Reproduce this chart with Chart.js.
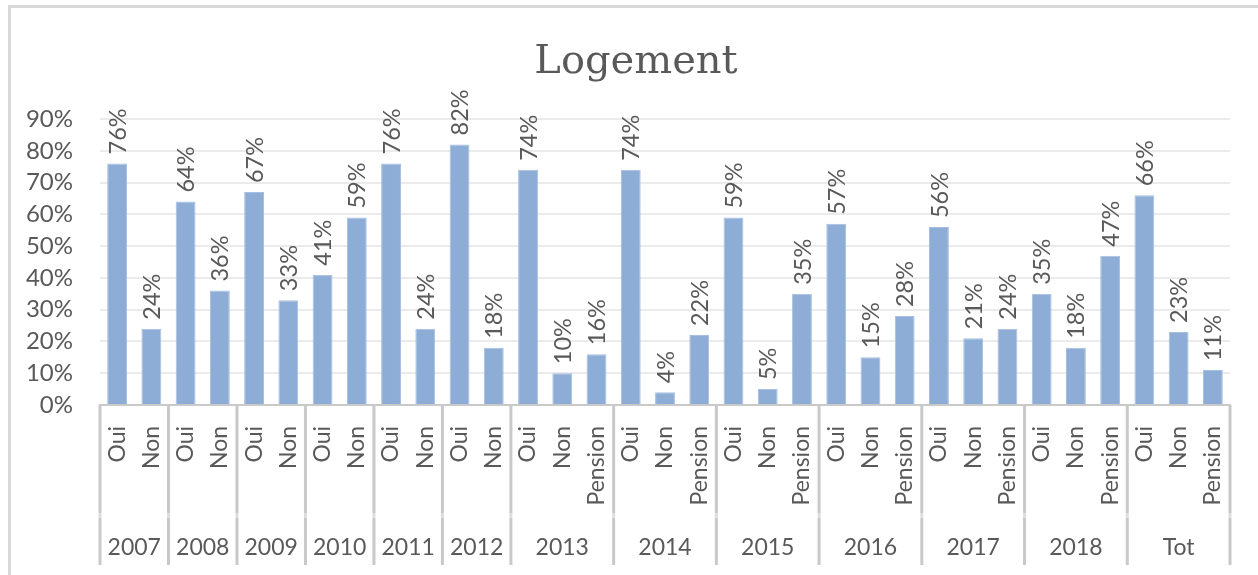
<!DOCTYPE html>
<html>
<head>
<meta charset="utf-8">
<title>Logement</title>
<script src="https://cdn.jsdelivr.net/npm/chart.js@4.4.0/dist/chart.umd.min.js"></script>
<style>
  html, body { margin: 0; padding: 0; background: #fff; }
  canvas { display: block; }
</style>
</head>
<body>
<canvas id="chartLogement" width="1258" height="575"></canvas>
<script>
// données (en %)
const titre = 'Logement';
const annees = ['2007', '2008', '2009', '2010', '2011', '2012', '2013', '2014', '2015', '2016', '2017', '2018', 'Tot'];
const tailleGroupes = [2, 2, 2, 2, 2, 2, 3, 3, 3, 3, 3, 3, 3];
const reponses = [
  'Oui', 'Non', 'Oui', 'Non', 'Oui', 'Non', 'Oui', 'Non', 'Oui', 'Non', 'Oui', 'Non',
  'Oui', 'Non', 'Pension', 'Oui', 'Non', 'Pension', 'Oui', 'Non', 'Pension',
  'Oui', 'Non', 'Pension', 'Oui', 'Non', 'Pension', 'Oui', 'Non', 'Pension',
  'Oui', 'Non', 'Pension'
];
const pourcentages = [
  76, 24, 64, 36, 67, 33, 41, 59, 76, 24, 82, 18,
  74, 10, 16, 74, 4, 22, 59, 5, 35,
  57, 15, 28, 56, 21, 24, 35, 18, 47,
  66, 23, 11
];
const ticksY = [0, 10, 20, 30, 40, 50, 60, 70, 80, 90];

const GRIS_TEXTE = '#595959';
const GRIS_LIGNE = '#c9c9c9';
const POLICE = 'Lato, "Open Sans", sans-serif';

Chart.defaults.font.family = POLICE;
Chart.defaults.font.size = 23;
Chart.defaults.color = GRIS_TEXTE;

// cadre gris clair + titre (centré comme dans Excel, un peu à droite du milieu)
const cadre = {
  id: 'cadre',
  beforeDraw(chart){
    const c = chart.ctx;
    c.save();
    c.fillStyle = '#fff';
    c.fillRect(0, 0, chart.width, chart.height);
    c.strokeStyle = '#d9d9d9';
    c.lineWidth = 3;
    c.beginPath();
    c.moveTo(9.5, chart.height);
    c.lineTo(9.5, 6.5);
    c.lineTo(chart.width, 6.5);
    c.stroke();
    c.fillStyle = GRIS_TEXTE;
    c.font = '40px "DejaVu Serif", serif';
    c.textAlign = 'center';
    c.textBaseline = 'alphabetic';
    c.fillText(titre, 636, 73);
    c.restore();
  }
};

// étiquettes de valeur verticales au-dessus des barres
const etiquettes = {
  id: 'etiquettes',
  afterDatasetsDraw(chart){
    const c = chart.ctx;
    const meta = chart.getDatasetMeta(0);
    c.save();
    c.fillStyle = GRIS_TEXTE;
    c.font = '23.5px ' + POLICE;
    c.textAlign = 'left';
    c.textBaseline = 'middle';
    meta.data.forEach((bar, i) => {
      c.save();
      c.translate(bar.x, bar.y - 9);
      c.rotate(-Math.PI / 2);
      c.fillText(pourcentages[i] + '%', 0, 1);
      c.restore();
    });
    c.restore();
  }
};

// deuxième niveau de l'axe des x : séparateurs et années
const groupes = {
  id: 'groupes',
  afterDraw(chart){
    const c = chart.ctx;
    const x = chart.scales.x;
    const area = chart.chartArea;
    const demi = (x.getPixelForValue(1) - x.getPixelForValue(0)) / 2;
    const haut = area.bottom;
    const bas = 565;
    c.save();
    c.lineWidth = 3;
    c.fillStyle = GRIS_TEXTE;
    c.font = '23px ' + POLICE;
    c.textAlign = 'center';
    c.textBaseline = 'middle';
    let debut = 0;
    const bords = [x.getPixelForValue(0) - demi];
    tailleGroupes.forEach((n, g) => {
      const fin = debut + n - 1;
      const gauche = x.getPixelForValue(debut) - demi;
      const droite = x.getPixelForValue(fin) + demi;
      bords.push(droite);
      c.fillText(annees[g], (gauche + droite) / 2, 548);
      debut += n;
    });
    bords.forEach(b => {
      c.strokeStyle = GRIS_LIGNE;
      c.beginPath();
      c.moveTo(b, haut);
      c.lineTo(b, 513);
      c.moveTo(b, 518);
      c.lineTo(b, bas);
      c.stroke();
      c.strokeStyle = '#dedede';
      c.beginPath();
      c.moveTo(b, 513);
      c.lineTo(b, 518);
      c.stroke();
    });
    c.restore();
  }
};

const ctx = document.getElementById('chartLogement').getContext('2d');
const chart = new Chart(ctx, {
  type: 'bar',
  data: {
    labels: reponses,
    datasets: [{
      data: pourcentages,
      backgroundColor: '#8eadd6',
      borderColor: '#a6bfe0',
      borderWidth: 1,
      categoryPercentage: 1,
      barPercentage: 0.58
    }]
  },
  options: {
    responsive: false,
    animation: false,
    layout: { padding: { left: 0, right: 28, top: 119, bottom: 0 } },
    plugins: {
      legend: { display: false },
      tooltip: { enabled: false },
      title: { display: false }
    },
    scales: {
      x: {
        grid: { display: false },
        border: { display: true, color: GRIS_LIGNE, width: 2 },
        ticks: {
          autoSkip: false,
          maxRotation: 90,
          minRotation: 90,
          padding: 13,
          color: GRIS_TEXTE
        },
        afterFit(scale){ scale.height = 170; }
      },
      y: {
        min: 0,
        max: 90,
        afterBuildTicks(scale){ scale.ticks = ticksY.map(v => ({ value: v })); },
        grid: { color: '#ebebeb', lineWidth: 2, drawTicks: false },
        border: { display: false },
        ticks: {
          autoSkip: false,
          padding: 27,
          color: GRIS_TEXTE,
          font: { size: 24 },
          callback: v => v + '%'
        },
        afterFit(scale){ scale.width = 100; }
      }
    }
  },
  plugins: [cadre, etiquettes, groupes]
});
</script>
</body>
</html>
